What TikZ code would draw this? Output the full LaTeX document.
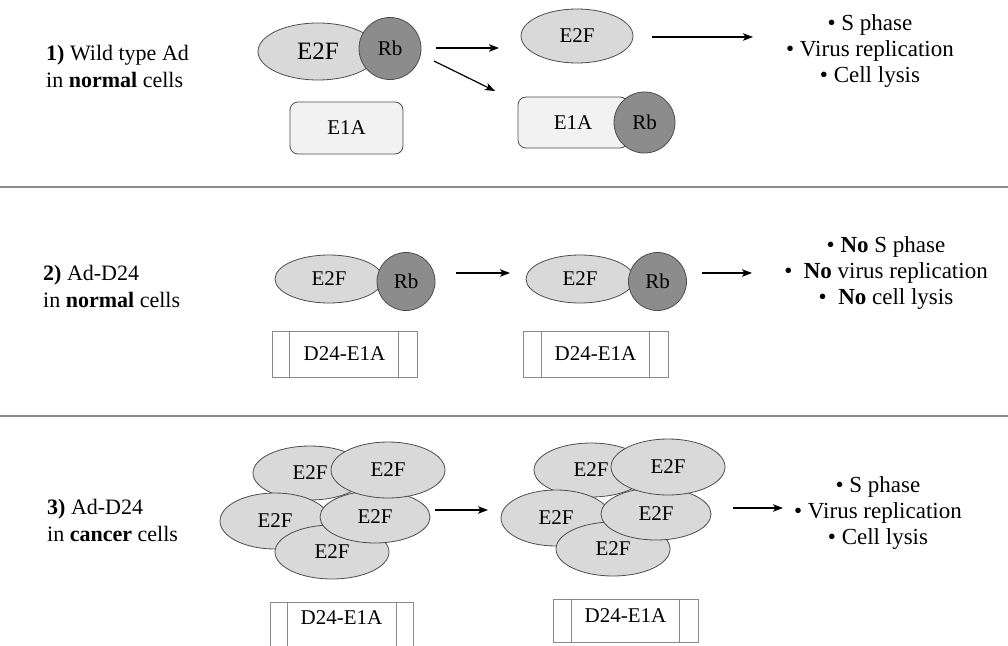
\documentclass[tikz,border=0pt]{standalone}
\usepackage{fontspec}
\setmainfont{Liberation Serif}
\usetikzlibrary{shapes.geometric,arrows.meta}
\definecolor{efill}{HTML}{D9D9D9}
\definecolor{rbfill}{HTML}{8C8C8C}
\definecolor{boxfill}{HTML}{F2F2F2}
\definecolor{edgecol}{HTML}{4D4D4D}
\definecolor{sepcol}{HTML}{8C8C8C}
\definecolor{dboxcol}{HTML}{8A8A8A}
\begin{document}
\begin{tikzpicture}[x=1pt,y=-1pt,
  lab/.style={font=\fontsize{21}{25}\selectfont},
  eobj/.style={ellipse, draw=edgecol, fill=efill, line width=0.8pt, inner sep=0pt, lab},
  rbobj/.style={circle, draw=edgecol, fill=rbfill, line width=0.8pt, inner sep=0pt, minimum size=61pt, lab},
  e1abox/.style={rectangle, rounded corners=8pt, draw=edgecol, fill=boxfill, line width=0.8pt, inner sep=0pt, lab},
  d24box/.style={rectangle, draw=dboxcol, fill=white, line width=0.8pt, inner sep=0pt, minimum width=145pt, lab},
  d24line/.style={draw=dboxcol, line width=0.8pt},
  arr/.style={-{Stealth[length=10pt,width=7.5pt,inset=2.5pt]}, line width=1.2pt},
  outtxt/.style={align=center, inner sep=0pt, font=\fontsize{23}{26}\selectfont},
  side/.style={anchor=west, align=left, inner sep=0pt, font=\fontsize{22}{27}\selectfont},
  sepline/.style={draw=sepcol, line width=1.6pt}]
\useasboundingbox (0,0) rectangle (1008,645);

% separators
\draw[sepline] (0,187) -- (1008,187);
\draw[sepline] (0,416) -- (1008,416);

% ---------------- Panel 1
\node[side] (lab1) at (46,66.5) {\textbf{1)} Wild type Ad\\in \textbf{normal} cells};
\node[eobj, minimum width=120pt, minimum height=57pt, font=\fontsize{25}{28}\selectfont] (p1e2f) at (318,51.5) {E2F};
\node[rbobj, minimum size=62pt] (p1rb) at (390,48.5) {Rb};
\node[e1abox, minimum width=113pt, minimum height=52pt] (p1e1a) at (346.5,128) {E1A};
\node[eobj, minimum width=112pt, minimum height=54pt] (p1e2fb) at (577,36) {E2F};
\node[e1abox, minimum width=110pt, minimum height=51pt] (p1e1ab) at (573,122.5) {E1A};
\node[rbobj, minimum size=61pt] (p1rbb) at (644.5,122.5) {Rb};
\node[outtxt] (out1) at (870,51.5) {• S phase\\• Virus replication\\• Cell lysis};
\coordinate (a1s) at (436,48);  \coordinate (a1e) at (499,48);
\coordinate (a2s) at (434,61);  \coordinate (a2e) at (495,91);
\coordinate (a3s) at (652,37);  \coordinate (a3e) at (753,37);
\draw[arr] (a1s) -- (a1e);
\draw[arr] (a2s) -- (a2e);
\draw[arr] (a3s) -- (a3e);

% ---------------- Panel 2
\node[side] (lab2) at (43,286) {\textbf{2)} Ad-D24\\in \textbf{normal} cells};
\node[eobj, minimum width=108pt, minimum height=48pt] (p2e2f) at (329,279) {E2F};
\node[rbobj, minimum size=58pt] (p2rb) at (406,281.5) {Rb};
\node[eobj, minimum width=108pt, minimum height=48pt] (p2e2fb) at (580,279) {E2F};
\node[rbobj, minimum size=58pt] (p2rbb) at (657.5,281.5) {Rb};
\node[d24box, minimum height=46pt] (p2d1) at (344.5,354) {D24-E1A};
\draw[d24line] ([xshift=18pt]p2d1.north west) -- ([xshift=18pt]p2d1.south west);
\draw[d24line] ([xshift=-19pt]p2d1.north east) -- ([xshift=-19pt]p2d1.south east);
\node[d24box, minimum height=46pt] (p2d2) at (595.5,354) {D24-E1A};
\draw[d24line] ([xshift=19pt]p2d2.north west) -- ([xshift=19pt]p2d2.south west);
\draw[d24line] ([xshift=-19pt]p2d2.north east) -- ([xshift=-19pt]p2d2.south east);
\node[outtxt] (out2) at (886,273) {• \textbf{No} S phase\\•\ \ \textbf{No} virus replication\\•\ \ \textbf{No} cell lysis};
\coordinate (b1s) at (456,273); \coordinate (b1e) at (510,273);
\coordinate (b2s) at (702,273); \coordinate (b2e) at (752,273);
\draw[arr] (b1s) -- (b1e);
\draw[arr] (b2s) -- (b2e);

% ---------------- Panel 3
\node[side] (lab3) at (47,520) {\textbf{3)} Ad-D24\\in \textbf{cancer} cells};
% cluster 1
\node[eobj, minimum width=114pt, minimum height=54pt] (c1a) at (310,473) {E2F};
\node[eobj, minimum width=110pt, minimum height=56pt] (c1c) at (275,521) {E2F};
\node[eobj, minimum width=114pt, minimum height=54pt] (c1e) at (332,552) {E2F};
\node[eobj, minimum width=110pt, minimum height=52pt] (c1d) at (375,517) {E2F};
\node[eobj, minimum width=114pt, minimum height=56pt] (c1b) at (388,470) {E2F};
% cluster 2
\node[eobj, minimum width=114pt, minimum height=54pt] (c2a) at (591,470) {E2F};
\node[eobj, minimum width=110pt, minimum height=56pt] (c2c) at (556,518) {E2F};
\node[eobj, minimum width=114pt, minimum height=54pt] (c2e) at (613,549) {E2F};
\node[eobj, minimum width=110pt, minimum height=52pt] (c2d) at (656,514) {E2F};
\node[eobj, minimum width=114pt, minimum height=56pt] (c2b) at (668,467) {E2F};
% boxes
\node[d24box, minimum width=143pt, text height=22pt, text depth=26pt] (p3d1) at (341.5,626) {D24-E1A};
\draw[d24line] ([xshift=18pt]p3d1.north west) -- ([xshift=18pt]p3d1.south west);
\draw[d24line] ([xshift=-17pt]p3d1.north east) -- ([xshift=-17pt]p3d1.south east);
\node[d24box, text height=23pt, text depth=20pt] (p3d2) at (625.5,620.5) {D24-E1A};
\draw[d24line] ([xshift=19pt]p3d2.north west) -- ([xshift=19pt]p3d2.south west);
\draw[d24line] ([xshift=-19pt]p3d2.north east) -- ([xshift=-19pt]p3d2.south east);
\node[outtxt] (out3) at (878,513) {• S phase\\• Virus replication\\• Cell lysis};
\coordinate (c1s) at (435,510); \coordinate (c1f) at (488,510);
\coordinate (c2s) at (733,508); \coordinate (c2f) at (783,508);
\draw[arr] (c1s) -- (c1f);
\draw[arr] (c2s) -- (c2f);
\end{tikzpicture}
\end{document}
